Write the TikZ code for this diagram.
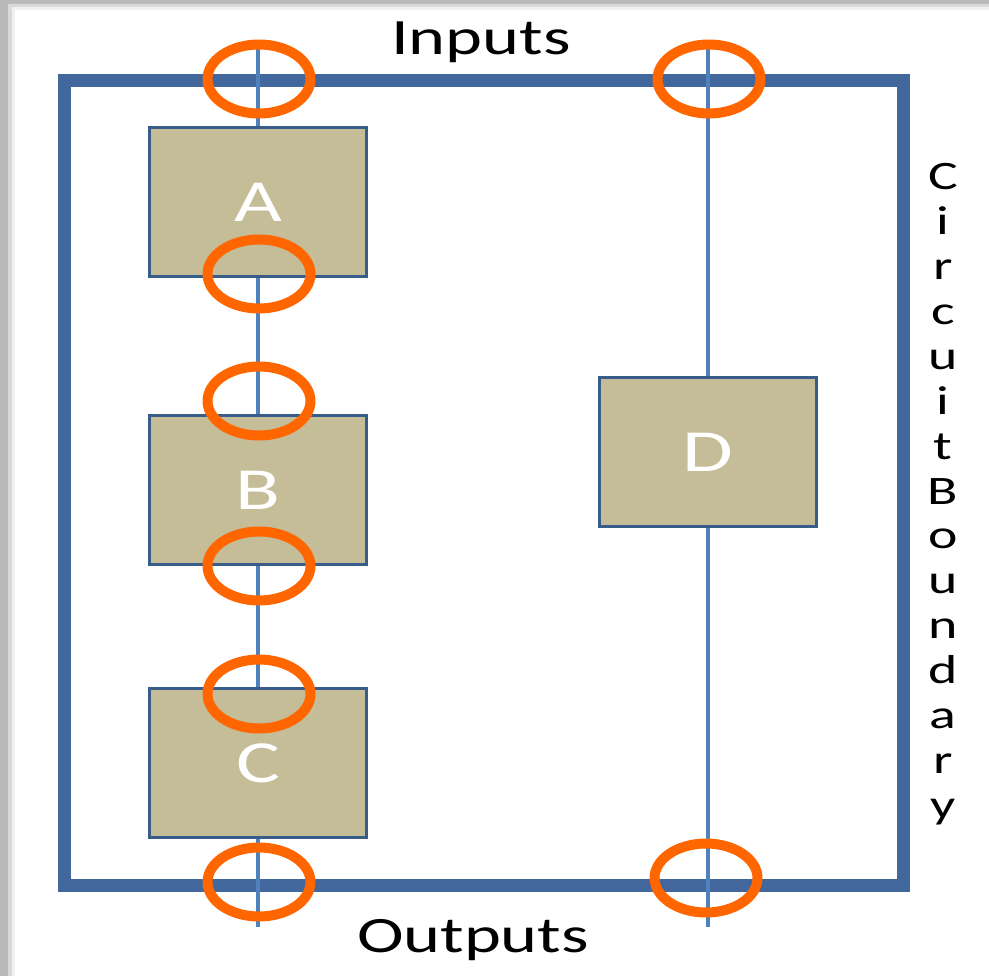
\documentclass[tikz,border=0pt]{standalone}
\usepackage{fontspec}
\usepackage{graphicx}
\setmainfont{Carlito}
\usetikzlibrary{shapes.geometric, positioning}
\definecolor{wireblue}{HTML}{4F81BD}
\definecolor{edgeblue}{HTML}{385D8A}
\definecolor{framblue}{HTML}{41679C}
\definecolor{boxtan}{HTML}{C4BD97}
\definecolor{portorange}{HTML}{FF6600}
\newcommand{\widetext}[1]{\scalebox{1.38}[1]{#1}}

\begin{document}
\begin{tikzpicture}[
        x=0.02cm, y=-0.02cm,
        block/.style={rectangle, draw=edgeblue, line width=0.06cm, fill=boxtan, minimum width=4.36cm, minimum height=3cm, inner sep=0pt, text=white, font=\fontsize{34}{38}\selectfont},
        port/.style={ellipse, draw=portorange, line width=0.2cm, minimum width=2.06cm, minimum height=1.38cm, inner sep=0pt},
        wire/.style={draw=wireblue, line width=0.08cm},
        labelnode/.style={font=\fontsize{29}{32}\selectfont, align=center}
    ]
        \useasboundingbox (0,0) rectangle (989,976);
        % Shadow
        \fill[gray!55] (0,0) rectangle (989,976);
        \fill[gray!30] (8,4) rectangle (989,976);
        \fill[gray!12] (12,7) rectangle (989,976);
        \fill[white] (15,10) rectangle (989,976);

        % Boundary
        \node (boundary) [rectangle, draw=framblue, line width=0.26cm, minimum width=16.8cm, minimum height=16.1cm, inner sep=0pt] at (484,483) {};
        \node (inputs) [labelnode] at (481,42) {\widetext{Inputs}};
        \node (outputs) [labelnode] at (473,940) {\widetext{Outputs}};
        \node (side) [font=\fontsize{23}{25.6}\selectfont] at (943,495) {\widetext{\begin{tabular}{@{}c@{}}C\\i\\r\\c\\u\\i\\t\\B\\o\\u\\n\\d\\a\\r\\y\end{tabular}}};

        % Nodes
        \node (A) [block] at (258,202) {\widetext{A}};
        \node (B) [block] at (258,490) {\widetext{B}};
        \node (C) [block] at (258,763) {\widetext{C}};
        \node (D) [block] at (708,452) {\widetext{D}};
        \coordinate (inL) at (258,45);
        \coordinate (inR) at (708,45);
        \coordinate (outL) at (258,927);
        \coordinate (outR) at (708,927);

        % Wires
        \draw [wire] (inL) -- (A);
        \draw [wire] (A) -- (B);
        \draw [wire] (B) -- (C);
        \draw [wire] (C) -- (outL);
        \draw [wire] (inR) -- (D);
        \draw [wire] (D) -- (outR);

        % Ports
        \node (pinL) [port] at (259,79) {};
        \node (pinR) [port] at (709,79) {};
        \node (pAout) [port] at (259,274) {};
        \node (pBin) [port] at (259,401) {};
        \node (pBout) [port] at (259,566) {};
        \node (pCin) [port] at (259,694) {};
        \node (poutL) [port] at (259,882) {};
        \node (poutR) [port] at (706,878) {};
    \end{tikzpicture}
\end{document}
